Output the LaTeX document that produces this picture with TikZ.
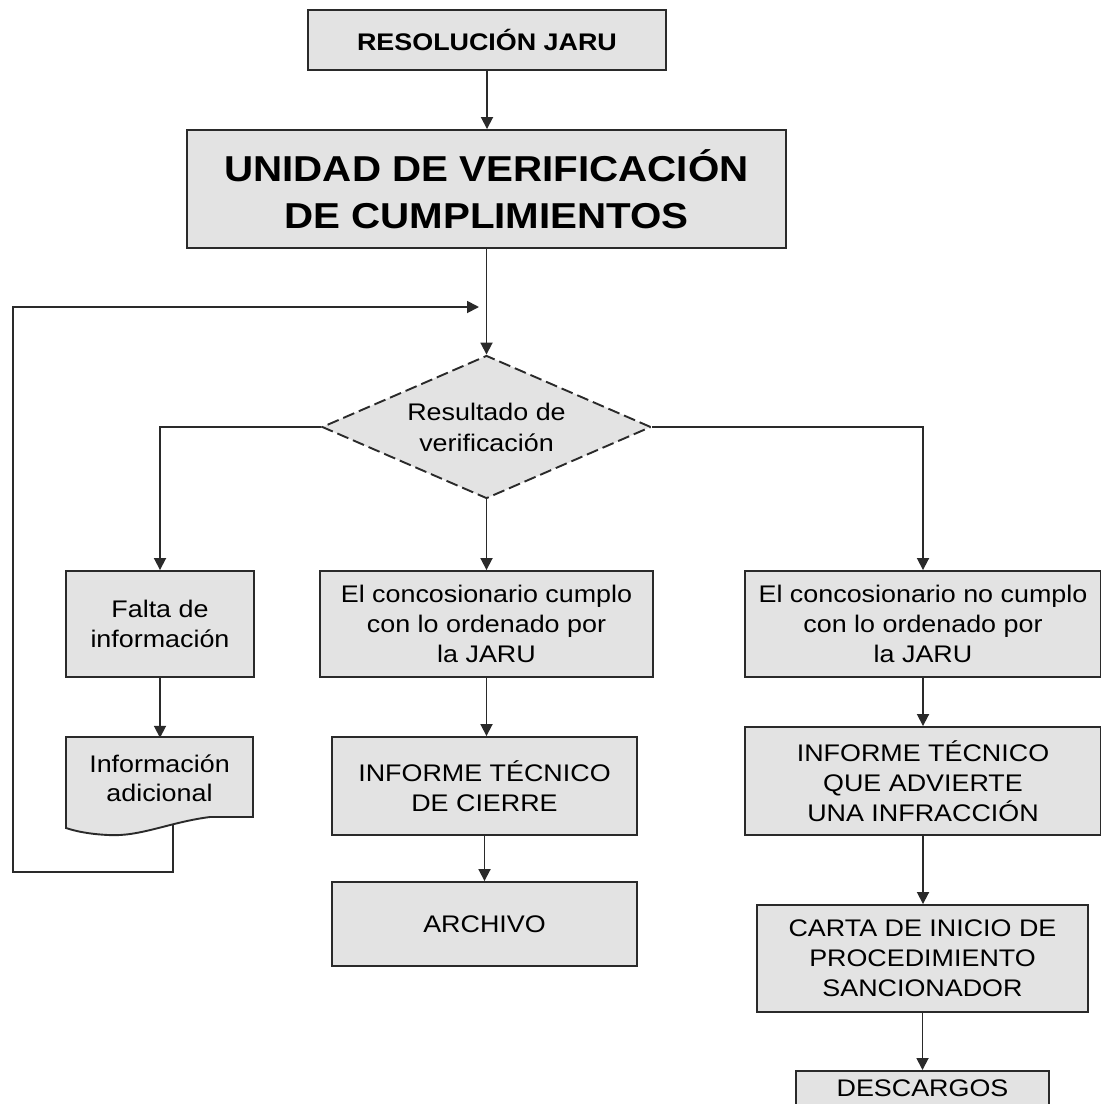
\documentclass[tikz,border=0pt]{standalone}
\usepackage{fontspec}
\setmainfont{Liberation Sans}[FakeStretch=1.12]
\usepackage{tikz}
\usetikzlibrary{positioning,shapes.geometric,arrows.meta}
\definecolor{relleno}{HTML}{E3E3E3}
\definecolor{linea}{HTML}{2A2A2A}

\begin{document}
\begin{tikzpicture}[x=1pt,y=-1pt,
bx/.style={draw=linea,line width=1.9pt,fill=relleno,rectangle,inner sep=0pt,
align=center,text=black,font=\fontsize{24}{30}\selectfont},
dec/.style={draw=linea,line width=1.9pt,fill=relleno,diamond,aspect=2.3,inner sep=0pt,
dash pattern=on 12pt off 5pt,align=center,text=black,font=\fontsize{24}{31}\selectfont},
doctxt/.style={rectangle,inner sep=0pt,align=center,text=black,font=\fontsize{24}{29}\selectfont},
arr/.style={draw=linea,line width=1.8pt,-{Triangle[length=12pt,width=12pt]}}]
\useasboundingbox (0,0) rectangle (1101,1104);
\node[bx,minimum width=358pt,minimum height=60pt,font=\bfseries\fontsize{24}{30}\selectfont]
  (res) at (487,40) {RESOLUCIÓN JARU};
\node[bx,minimum width=599pt,minimum height=118pt,font=\bfseries\fontsize{36}{47}\selectfont]
  (uvc) at (486.5,189) {UNIDAD DE VERIFICACIÓN\\DE CUMPLIMIENTOS};
\node[dec,minimum width=329pt,minimum height=143pt] (verif) at (486.5,427)
  {Resultado de\\verificación};
\node[bx,minimum width=188pt,minimum height=106pt] (falta) at (160,624)
  {Falta de\\información};
\node[bx,minimum width=333pt,minimum height=106pt] (cumple) at (486.5,624)
  {El concosionario cumplo\\con lo ordenado por\\la JARU};
\node[bx,minimum width=356pt,minimum height=106pt] (nocumple) at (923,624)
  {El concosionario no cumplo\\con lo ordenado por\\la JARU};
\draw[linea,line width=1.9pt,fill=relleno] (66,737) -- (253,737) -- (253,817) -- (210,817)
  .. controls (170,822) and (140,837) .. (108,835)
  .. controls (88,834) and (75,831) .. (66,828) -- cycle;
\node[doctxt,minimum width=187pt,minimum height=80pt] (info) at (159.5,778)
  {Información\\adicional};
\coordinate (infob) at (173,825);
\node[bx,minimum width=305pt,minimum height=98pt] (cierre) at (484.5,786)
  {INFORME TÉCNICO\\DE CIERRE};
\node[bx,minimum width=305pt,minimum height=84pt] (archivo) at (484.5,924) {ARCHIVO};
\node[bx,minimum width=356pt,minimum height=108pt] (advierte) at (923,781)
  {INFORME TÉCNICO\\QUE ADVIERTE\\UNA INFRACCIÓN};
\node[bx,minimum width=331pt,minimum height=107pt] (carta) at (922.5,958.5)
  {CARTA DE INICIO DE\\PROCEDIMIENTO\\SANCIONADOR};
\node[bx,minimum width=253pt,inner ysep=9pt,text depth=30pt,anchor=north]
  (descargos) at (922.5,1070) {DESCARGOS};
\coordinate (lazo) at (13,872);
\coordinate (retorno) at (479,307);
\draw[arr] (res.south) -- (res.south |- uvc.north);
\draw[arr] (uvc.south) -- (verif.north);
\draw[arr] (verif.west) -| (falta.north);
\draw[arr] (verif.south) -- (verif.south |- cumple.north);
\draw[arr] (verif.east) -| (nocumple.north);
\draw[arr] (falta.south) -- (falta.south |- info.north);
\draw[arr] (cumple.south) -- (cumple.south |- cierre.north);
\draw[arr] (cierre.south) -- (archivo.north);
\draw[arr] (nocumple.south) -- (advierte.north);
\draw[arr] (advierte.south) -- (advierte.south |- carta.north);
\draw[arr] (carta.south) -- (descargos.north);
\draw[arr] (infob) |- (lazo) |- (retorno);
\end{tikzpicture}
\end{document}
